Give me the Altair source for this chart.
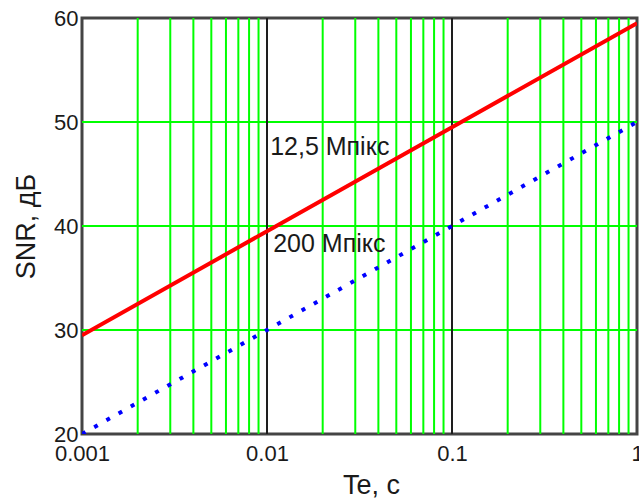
import altair as alt
import pandas as pd

# Exposure time (s) and signal-to-noise ratio (dB) for two sensor resolutions
te = [0.001, 0.01, 0.1, 1.0]
snr_12_5 = [29.5, 39.5, 49.5, 59.5]
snr_200 = [20.0, 30.0, 40.0, 50.0]

# Axis ticks and grid positions
decade_ticks = [0.001, 0.01, 0.1, 1.0]
decade_grid = [0.01, 0.1]
minor_grid = [0.002, 0.003, 0.004, 0.005, 0.006, 0.007, 0.008, 0.009,
              0.02, 0.03, 0.04, 0.05, 0.06, 0.07, 0.08, 0.09,
              0.2, 0.3, 0.4, 0.5, 0.6, 0.7, 0.8, 0.9]
snr_ticks = [20, 30, 40, 50, 60]
snr_grid = [30, 40, 50]

FONT = "Liberation Sans"
INK = "#1a1a1a"
GRID_GREEN = "#00ff00"

x_scale = alt.Scale(type="log", domain=[0.001, 1], nice=False)
y_scale = alt.Scale(domain=[20, 60], nice=False, zero=False)

x_axis = alt.Axis(
    values=decade_ticks,
    format="~g",
    ticks=False,
    domain=False,
    grid=False,
    labelFlush=False,
    labelOverlap=False,
    labelPadding=9,
    labelFont=FONT,
    labelFontSize=22,
    labelColor=INK,
    title="Te, c",
    titleFont=FONT,
    titleFontSize=27,
    titleFontWeight="normal",
    titleColor=INK,
    titleAlign="center",
    titleBaseline="alphabetic",
    titleX=289,
    titleY=59,
)

y_axis = alt.Axis(
    values=snr_ticks,
    ticks=False,
    domain=False,
    grid=False,
    labelFlush=False,
    labelOverlap=False,
    labelPadding=4,
    labelFont=FONT,
    labelFontSize=22,
    labelColor=INK,
    title="SNR, дБ",
    titleFont=FONT,
    titleFontSize=27,
    titleFontWeight="normal",
    titleColor=INK,
    titleAngle=270,
    titleAlign="center",
    titleBaseline="middle",
    titleX=-56,
    titleY=208,
)


def xq(field):
    return alt.X(f"{field}:Q", scale=x_scale, axis=x_axis, title="Te, c")


def yq(field):
    return alt.Y(f"{field}:Q", scale=y_scale, axis=y_axis, title="SNR, дБ")


lines_df = pd.DataFrame({"te": te, "snr_12_5": snr_12_5, "snr_200": snr_200})

minor_rules = alt.Chart(pd.DataFrame({"te": minor_grid})).mark_rule(
    color=GRID_GREEN, strokeWidth=2
).encode(x=xq("te"))

hgrid_rules = alt.Chart(pd.DataFrame({"snr": snr_grid})).mark_rule(
    color=GRID_GREEN, strokeWidth=2
).encode(y=yq("snr"))

decade_rules = alt.Chart(pd.DataFrame({"te": decade_grid})).mark_rule(
    color="#1e1e1e", strokeWidth=2
).encode(x=xq("te"))

red_line = alt.Chart(lines_df).mark_line(
    color="#ff0000", strokeWidth=4, clip=True
).encode(x=xq("te"), y=yq("snr_12_5"))

blue_line = alt.Chart(lines_df).mark_line(
    color="#0000ff", strokeWidth=4, strokeDash=[4, 10], strokeCap="butt", clip=True
).encode(x=xq("te"), y=yq("snr_200"))

label_style = dict(align="left", baseline="alphabetic", font=FONT, fontSize=25, color=INK)

label_12_5 = alt.Chart(pd.DataFrame({"t": ["12,5 Мпікс"]})).mark_text(**label_style).encode(
    x=alt.XDatum(0.0104, type="quantitative", scale=x_scale, axis=x_axis, title="Te, c"),
    y=alt.YDatum(46.8, type="quantitative", scale=y_scale, axis=y_axis, title="SNR, дБ"),
    text="t:N",
)

label_200 = alt.Chart(pd.DataFrame({"t": ["200 Мпікс"]})).mark_text(**label_style).encode(
    x=alt.XDatum(0.0108, type="quantitative", scale=x_scale, axis=x_axis, title="Te, c"),
    y=alt.YDatum(37.5, type="quantitative", scale=y_scale, axis=y_axis, title="SNR, дБ"),
    text="t:N",
)

chart = (
    alt.layer(minor_rules, hgrid_rules, decade_rules, red_line, blue_line, label_12_5, label_200)
    .properties(
        width=555,
        height=416,
        padding={"left": 82, "top": 18, "right": 2, "bottom": 67},
        autosize=alt.AutoSizeParams(type="none"),
        background="white",
    )
    .configure_view(stroke="#444444", strokeWidth=3)
)

chart.save("out.html", embed_options={"renderer": "svg", "actions": False})
